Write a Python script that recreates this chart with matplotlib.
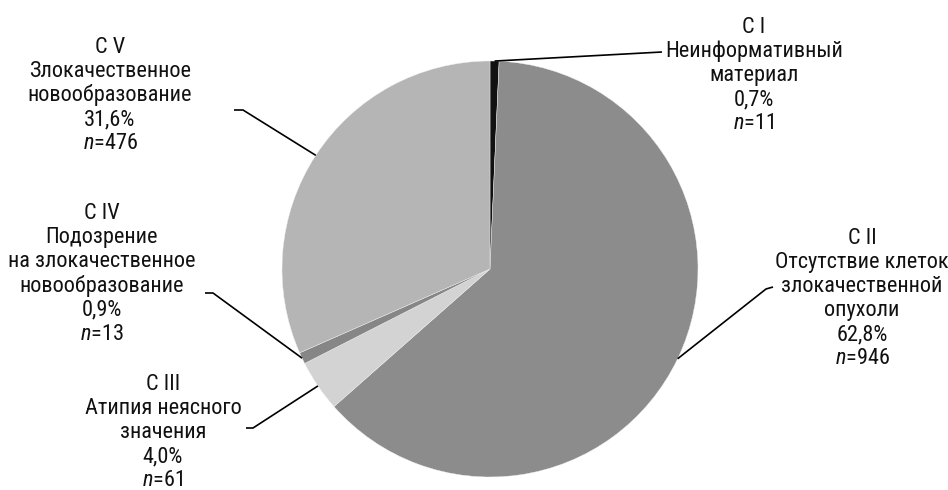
import matplotlib
matplotlib.use('Agg')
import matplotlib.pyplot as plt
import numpy as np
from matplotlib import font_manager

# данные
labels = ['C I', 'C II', 'C III', 'C IV', 'C V']
names = ['Неинформативный\nматериал',
         'Отсутствие клеток\nзлокачественной\nопухоли',
         'Атипия неясного\nзначения',
         'Подозрение\nна злокачественное\nновообразование',
         'Злокачественное\nновообразование']
percents = [0.7, 62.8, 4.0, 0.9, 31.6]
counts = [11, 946, 61, 13, 476]
colors = ['#111111', '#8c8c8c', '#d3d3d3', '#868686', '#b5b5b5']

# шрифт
installed = {f.name for f in font_manager.fontManager.ttflist}
font = 'DejaVu Sans'
for name in ['Roboto Condensed', 'PT Sans Narrow', 'Fira Sans Condensed', 'Ubuntu Condensed']:
    if name in installed:
        font = name
        break
plt.rcParams['font.family'] = [font, 'DejaVu Sans']
plt.rcParams['mathtext.fontset'] = 'custom'
plt.rcParams['mathtext.rm'] = font
plt.rcParams['mathtext.it'] = font + ':italic'

W, H = 948, 490
R = 208.0          # радиус круга в пикселях
CX, CY = 490, 269  # центр круга в пикселях

fig = plt.figure(figsize=(W / 100, H / 100), dpi=100)
ax = fig.add_axes([0, 0, 1, 1])

wedges, _ = ax.pie(percents, colors=colors, startangle=90, counterclock=False,
                   radius=1, center=(0, 0),
                   wedgeprops=dict(linewidth=0.3, edgecolor='#f0f0f0'))


def px(x, y):
    return (x - CX) / R, (CY - y) / R


# положение подписей (центр первой строки) и изломы выносок, в пикселях
text_pos = [(754, 27), (862, 238), (163, 384), (102, 213), (110, 47)]
leader_pts = [[(662, 52)],
              [(766, 289), (773, 287)],
              [(253, 428), (246, 428)],
              [(213, 293), (205, 293)],
              [(243, 110), (234, 110)]]
pitch = 24.2 / R

for i, w in enumerate(wedges):
    mid = np.deg2rad((w.theta1 + w.theta2) / 2)
    pts = [(np.cos(mid), np.sin(mid))] + [px(*p) for p in leader_pts[i]]
    xs, ys = zip(*pts)
    ax.plot(xs, ys, color='black', lw=1.2, solid_capstyle='butt')

    lines = [labels[i]] + names[i].split('\n') + ['%.1f%%' % percents[i]]
    lines[-1] = lines[-1].replace('.', ',')
    lines.append(r'$\mathit{n}$=%d' % counts[i])
    x0, y0 = px(*text_pos[i])
    for k, s in enumerate(lines):
        ax.text(x0, y0 - k * pitch, s, ha='center', va='center',
                fontsize=16, color='#111111')

ax.set_xlim(-CX / R, (W - CX) / R)
ax.set_ylim(-(H - CY) / R, CY / R)
ax.set_aspect('equal')
ax.axis('off')

fig.savefig('out.png', dpi=100)
